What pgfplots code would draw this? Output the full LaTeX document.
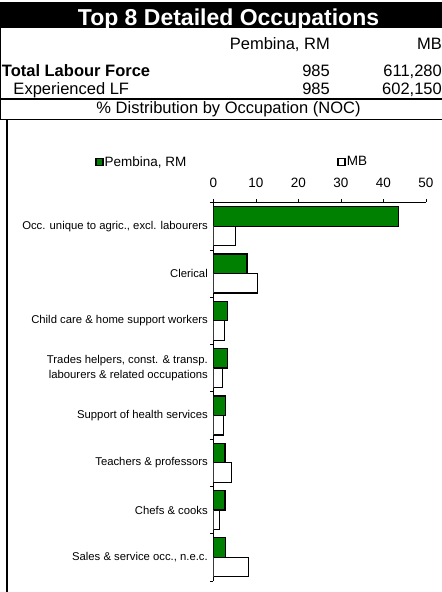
\documentclass[border=0pt]{standalone}
\usepackage{fontspec}
\setmainfont{Liberation Sans}
\usepackage{pgfplots}
\pgfplotsset{compat=1.18}
\definecolor{xlgreen}{RGB}{0,128,0}
\begin{document}
\begin{tikzpicture}
\path[use as bounding box] (0bp,0bp) rectangle (442bp,592bp);
\clip (0bp,0bp) rectangle (442bp,592bp);
% header
\fill[black] (0bp,564bp) rectangle (442bp,589.5bp);
\node[anchor=base, text=white, inner sep=0pt, font=\fontsize{23bp}{27bp}\selectfont\bfseries] at (228.5bp,566bp) {Top 8 Detailed Occupations};
\begin{scope}[every node/.style={inner sep=0pt, font=\fontsize{16.5bp}{19bp}\selectfont}]
\node[anchor=base east] at (330bp,542bp) {Pembina, RM};
\node[anchor=base east] at (442bp,542bp) {MB};
\node[anchor=base west, font=\fontsize{16.5bp}{19bp}\selectfont\bfseries] at (1.7bp,515bp) {Total Labour Force};
\node[anchor=base east] at (330bp,515bp) {985};
\node[anchor=base east] at (442bp,515bp) {611,280};
\node[anchor=base west] at (13.3bp,497.5bp) {Experienced LF};
\node[anchor=base east] at (330bp,497.5bp) {985};
\node[anchor=base east] at (442bp,497.5bp) {602,150};
\node[anchor=base] at (228.5bp,478bp) {\% Distribution by Occupation (NOC)};
\end{scope}
\draw[line width=1.5bp] (0bp,493bp) -- (442bp,493bp);
\draw[line width=1.5bp] (0bp,472.5bp) -- (442bp,472.5bp);
\draw[line width=1bp] (0.5bp,564bp) -- (0.5bp,472.5bp);
\draw[line width=2.5bp] (7bp,0bp) -- (7bp,473bp);
\begin{axis}[
  at={(213.3bp,11bp)}, anchor=south west,
  scale only axis, width=212.7bp, height=378.5bp,
  xmin=0, xmax=50, ymin=0.5, ymax=8.5,
  axis x line*=top, axis y line*=left,
  axis line style={line width=0.6bp, -},
  tick align=outside, major tick length=3.5bp,
  tick style={black, line width=0.6bp},
  xtick={0,10,...,50},
  ytick={0.5,1.5,...,8.5}, yticklabels={},
  extra y ticks={1,2,...,8},
  extra y tick labels={{Sales \& service occ., n.e.c.},{Chefs \& cooks},{Teachers \& professors},{Support of health services},{Trades helpers, const. \& transp.\\labourers \& related occupations},{Child care \& home support workers},{Clerical},{Occ. unique to agric., excl. labourers}},
  extra y tick style={major tick length=0pt},
  yticklabel style={align=right, font=\fontsize{11.3bp}{14.5bp}\selectfont, xshift=-2bp},
  xticklabel style={font=\fontsize{13.5bp}{16bp}\selectfont, yshift=8bp},
  /pgf/number format/assume math mode=true,
  xbar, bar width=19.5bp,
  legend columns=2,
  legend style={at={(-0.556,1.107)}, anchor=west, draw=none, fill=none, inner sep=0pt,
    font=\fontsize{13.5bp}{16bp}\selectfont,
    nodes={inner sep=1bp},
    /tikz/every even column/.append style={column sep=150bp}},
  legend image code/.code={\draw[#1, line width=1.4bp] (0bp,-3.3bp) rectangle (7bp,3.3bp);},
]
\addplot[fill=xlgreen, draw=black, line width=1.3bp, bar shift=9.75bp] coordinates {(2.8,1) (2.75,2) (2.75,3) (2.8,4) (3.3,5) (3.3,6) (7.9,7) (43.5,8)};
\addlegendentry{Pembina, RM}
\addplot[fill=white, draw=black, line width=1.3bp, bar shift=-9.75bp] coordinates {(8.3,1) (1.5,2) (4.2,3) (2.35,4) (2.2,5) (2.6,6) (10.4,7) (5.2,8)};
\addlegendentry{MB}
\end{axis}
\end{tikzpicture}
\end{document}
